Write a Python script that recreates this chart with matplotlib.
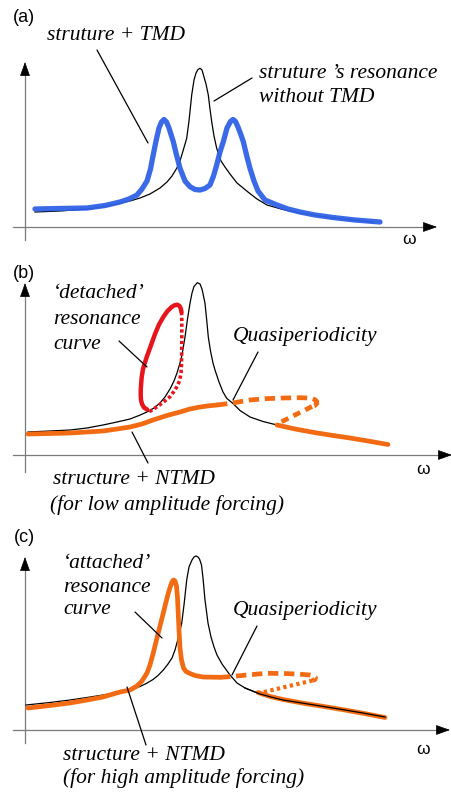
import matplotlib.pyplot as plt

W, H = 452, 792
SERIF = 'Liberation Serif'
SANS = 'Liberation Sans'

BLUE = '#2f62e6'
RED = '#e8141c'
ORANGE = '#f26b12'

# ---- panel (a): linear structure with / without TMD ----
a_w_bare = [10, 35, 62, 80, 95, 105, 115, 125, 135, 142, 147, 151.7, 155, 158, 161.7, 164, 166.7, 169, 171,
            173, 175, 177, 179, 181, 183.3, 185, 186.7, 189, 191.7, 196, 200, 205, 212, 223, 232, 242, 258,
            275, 292, 308, 328, 348]
a_A_bare = [15, 16, 18, 20.5, 24, 26, 29, 33, 39, 45, 51, 58.7, 66, 76, 88.7, 106, 132, 147, 154,
            157.5, 158.7, 157, 150, 143, 132, 118, 105.3, 91, 78.7, 66, 60, 53, 44, 35, 28, 22, 17.5,
            14, 11.3, 9, 7, 5]

a_w_tmd = [10, 35, 62, 80, 95, 104, 112, 117, 122, 125.5, 128, 131, 134, 136.5, 139, 141.5, 144, 148.3, 151,
           155, 160, 165, 170, 175, 180, 185, 188.5, 191.7, 195, 198.3, 202, 205.5, 208, 210.5, 213, 216,
           218.3, 222, 225, 229, 233, 240, 252, 263, 275, 290, 308, 330, 355]
a_A_tmd = [18, 18.5, 19, 21.5, 25, 28, 32, 38, 46, 58, 71, 86, 99, 105, 107.5, 105, 99, 85.3, 74,
           58.7, 46, 40.3, 37.5, 37, 38.5, 42, 51, 62, 75, 85.3, 99, 105.5, 107.5, 105.5, 100, 92,
           85.3, 70, 58.7, 46, 36, 27, 22, 18, 15, 12, 9.5, 7, 5]

# ---- panel (b): NTMD, low amplitude forcing ----
b_w_bare = [3, 25, 45, 62, 78, 92, 105, 114, 122, 129, 135, 140, 145, 149, 152, 155, 157, 160, 162.5, 165,
            167, 169, 172.3, 175, 177, 178.5, 180, 181.7, 183.3, 185.5, 188, 190, 194, 198, 201.7, 208, 215,
            225, 238, 252, 270, 292, 308, 325, 343, 361]
b_A_bare = [23, 24, 25, 27, 30, 33, 36, 39.5, 43, 47, 52, 58, 66, 74, 82, 92, 100, 118, 136, 151.7,
            162, 168.5, 172.3, 171, 166, 159, 151.7, 135, 118, 104, 92, 85, 73, 63, 56.7, 51.5, 44.5,
            38, 33.5, 30, 26, 22, 19.5, 17, 14, 11]

b_w_main = [3, 25, 45, 62, 78, 92, 105, 117, 128, 142, 155, 165, 175, 184, 192]
b_A_main = [21, 21.5, 22, 23, 24, 26, 28, 31, 35, 39.5, 43, 46, 48, 49.2, 50]
b_w_upper = [192, 200, 208, 216, 225, 240, 258, 275, 283, 287, 290, 291.8, 291.8, 290, 287]
b_A_upper = [50, 51, 52, 53.5, 55, 56.3, 57, 57.3, 57, 56.5, 55.3, 53.5, 51.5, 49.5, 48.5]
b_w_return = [287, 270, 252]
b_A_return = [48.5, 40, 31]
b_w_tail = [252, 270, 292, 308, 325, 343, 363]
b_A_tail = [30, 26, 22, 19.5, 17, 14, 10.5]

# detached branch (isola): stable and unstable parts
b_w_iso_stable = [122, 119, 117, 116, 115.7, 115.8, 116.2, 116.7, 118, 119.8, 121.7, 125, 130, 134, 138.3,
                  142.5, 146.7, 149.5, 152.3, 154.5, 155.7, 156.5]
b_A_iso_stable = [45.5, 47.5, 51, 55, 60, 66, 72, 78, 86, 92, 98, 107, 121, 130.5, 138,
                  144, 148, 149.7, 150.3, 149, 146.7, 143]
b_w_iso_unstable = [156.5, 156.8, 156.8, 156.7, 156.4, 156, 154.5, 151.7, 148.5, 145, 141, 136.7, 132.5,
                    128.3, 125.5, 123.3, 122]
b_A_iso_unstable = [143, 135, 118, 102, 90, 82, 74, 68, 63, 58.3, 55, 51.7, 48.5,
                    45.7, 44, 43.3, 44.5]

# ---- panel (c): NTMD, high amplitude forcing ----
c_w_bare = [1, 25, 45, 62, 78, 92, 105, 115, 121.7, 128, 133, 138.3, 143, 147, 150, 153, 156.7, 159, 161.7,
            164, 167, 169, 171, 173, 174.5, 176.5, 178, 180, 183, 186, 189, 192, 197, 205, 212, 220, 235,
            246, 258, 280, 308, 335, 360]
c_A_bare = [25, 27.5, 30, 32.5, 35, 37.5, 40, 43.5, 46.7, 50.5, 54.5, 60, 66, 72, 80, 91, 106.7, 125, 150,
            163, 170, 173, 174, 173, 171, 165, 152, 130, 107, 93, 83, 75, 66, 55, 47, 42, 36,
            33, 30, 26.5, 22, 17.5, 13]

c_w_main = [3, 25, 45, 62, 78, 95, 105, 112, 117, 122, 125, 128, 131, 133.5, 136, 138.3, 141, 143.5, 145.5,
            147, 148.5, 150, 151.5, 152.5, 153.3, 154, 155, 156.5, 158.5, 161, 165, 170, 178, 195]
c_A_main = [22, 24.5, 27, 30, 33, 38, 40, 44, 49, 57, 65, 76, 88, 98, 108, 117, 128, 137.5, 144,
            148, 150, 149, 144, 132, 115, 100, 82, 70, 62, 58.5, 56.5, 54.5, 53, 52.7]
c_w_upper = [195, 205, 220, 241, 260, 275, 285, 288.5, 290.5, 290, 287.5]
c_A_upper = [52.7, 53.3, 54.8, 56.7, 56.5, 55.8, 55, 54.3, 52.5, 50.5, 49.5]
c_w_return = [287.5, 260, 235]
c_A_return = [49.5, 43, 37]
c_w_tail = [233, 245, 258, 270, 280, 294, 308, 321, 335, 348, 360]
c_A_tail = [37.5, 33.5, 30.5, 28.3, 26.5, 24.3, 22, 19.8, 17.3, 14.8, 12.5]

fig = plt.figure(figsize=(W / 100, H / 100), dpi=100)


def panel(y0, y1, oy, x_tip, y_top, y_bot):
    # axes spanning figure rows y0..y1 (pixels from top), origin at (25, oy)
    ax = fig.add_axes([0, 1 - y1 / H, 1, (y1 - y0) / H])
    ax.set_xlim(-25, W - 25)
    ax.set_ylim(oy - y1, oy - y0)
    ax.axis('off')
    # coordinate axes with arrow heads
    ax.plot([0, 0], [y_bot, y_top - 8], color='#7a7a7a', lw=0.9)
    ax.plot([-12, x_tip - 8], [0, 0], color='#7a7a7a', lw=0.9)
    head = dict(arrowstyle='-|>,head_length=0.9,head_width=0.32', color='k', lw=0.5,
                shrinkA=0, shrinkB=0)
    ax.annotate('', xy=(0, y_top), xytext=(0, y_top - 10), arrowprops=head)
    ax.annotate('', xy=(x_tip, 0), xytext=(x_tip - 10, 0), arrowprops=head)
    return ax


def leader(ax, p0, p1):
    ax.annotate('', xy=p1, xytext=p0,
                arrowprops=dict(arrowstyle='-', color='k', lw=0.9, shrinkA=0, shrinkB=0))


def label(x, y, s, size=15.5, ha='left', font=SERIF, style='italic'):
    fig.text(x / W, 1 - y / H, s, ha=ha, va='center', fontsize=size,
             family=font, style=style)


thin = dict(color='k', lw=0.9)
thick = dict(lw=3.4, solid_capstyle='round', dash_capstyle='butt')

# (a)
ax = panel(0, 250, 227, 412, 165, -13)
ax.plot(a_w_bare, a_A_bare, **thin)
ax.plot(a_w_tmd, a_A_tmd, color=BLUE, lw=3.8, solid_capstyle='round', alpha=0.95)
leader(ax, (72, 177), (123, 84))
leader(ax, (227, 149), (189, 126))
label(24, 17, '(a)', size=13, ha='center', font=SANS, style='normal')
label(47, 35, 'struture + TMD')
label(259, 74, 'struture \u2019s resonance')
label(259, 98, 'without TMD')
label(409, 240, '\u03c9', size=12.5, ha='center', font=SANS, style='normal')

# (b)
ax = panel(250, 520, 455, 427, 172, -17)
ax.plot(b_w_bare, b_A_bare, **thin)
ax.plot(b_w_main, b_A_main, color=ORANGE, **thick)
ax.plot(b_w_upper, b_A_upper, color=ORANGE, linestyle=(0, (2.2, 1.2)), **thick)
ax.plot(b_w_return, b_A_return, color=ORANGE, linestyle=(0, (1.6, 1.2)), **thick)
ax.plot(b_w_tail, b_A_tail, color=ORANGE, **thick)
ax.plot(b_w_iso_stable, b_A_iso_stable, color=RED, lw=3.2, solid_capstyle='round')
ax.plot(b_w_iso_unstable, b_A_iso_unstable, color=RED, lw=2.6, linestyle=(0, (0.9, 0.7)))
leader(ax, (94, 114), (122, 88))
leader(ax, (233, 103), (208, 55))
leader(ax, (107, 23), (123, -8))
label(24, 273, '(b)', size=13, ha='center', font=SANS, style='normal')
label(53, 293, '\u2018detached\u2019')
label(53, 320, 'resonance')
label(53, 345, 'curve')
label(233, 336, 'Quasiperiodicity')
label(53, 480, 'structure + NTMD')
label(50, 505, '(for low amplitude forcing)')
label(423, 470, '\u03c9', size=12.5, ha='center', font=SANS, style='normal')

# (c)
ax = panel(520, 792, 730, 425, 173, -13)
ax.plot(c_w_bare, c_A_bare, **thin)
ax.plot(c_w_main, c_A_main, color=ORANGE, **thick)
ax.plot(c_w_upper, c_A_upper, color=ORANGE, linestyle=(0, (2.2, 1.2)), **thick)
ax.plot(c_w_return, c_A_return, color=ORANGE, lw=3.0, linestyle=(0, (0.8, 0.8)))
ax.plot(c_w_tail, c_A_tail, color=ORANGE, **thick)
ax.plot(c_w_bare[-8:], c_A_bare[-8:], **thin)
leader(ax, (110, 118), (137, 92))
leader(ax, (232, 104), (207, 55))
leader(ax, (102, 43), (121, -15))
label(24, 538, '(c)', size=13, ha='center', font=SANS, style='normal')
label(63, 563, '\u2018attached\u2019')
label(63, 587, 'resonance')
label(63, 610, 'curve')
label(233, 611, 'Quasiperiodicity')
label(63, 755, 'structure + NTMD')
label(63, 778, '(for high amplitude forcing)')
label(423, 750, '\u03c9', size=12.5, ha='center', font=SANS, style='normal')

fig.savefig('out.png', dpi=100)
